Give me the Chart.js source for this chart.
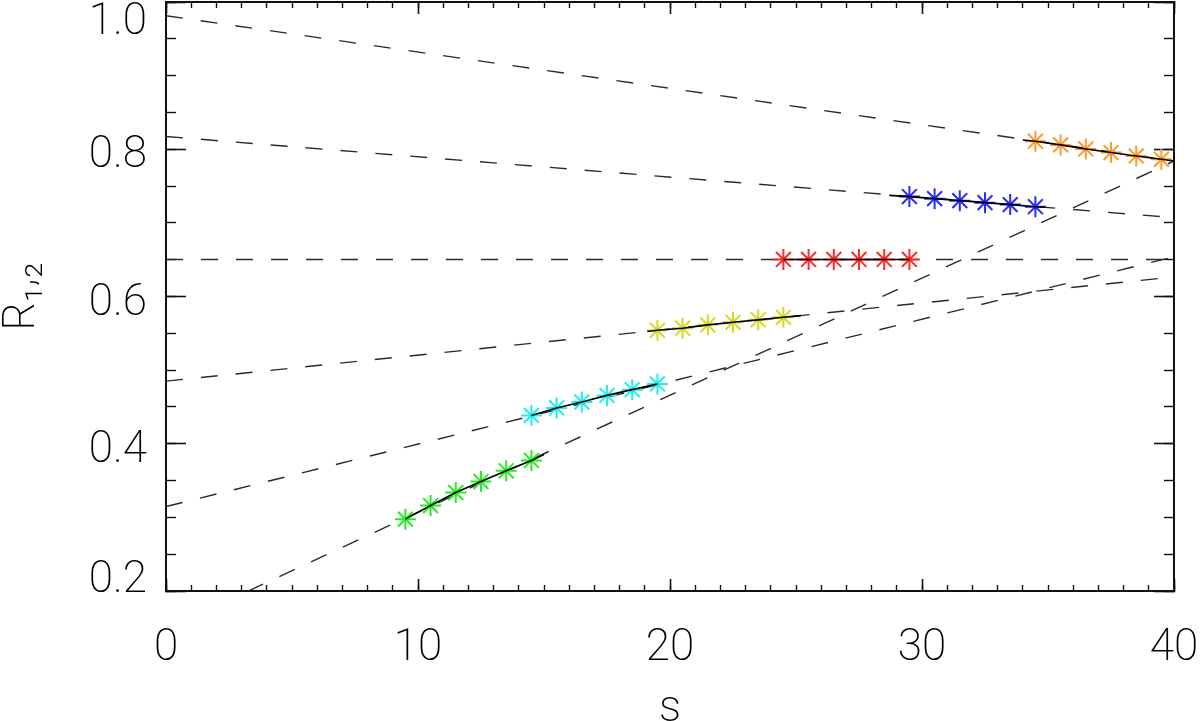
<!DOCTYPE html>
<html>
<head>
<meta charset="utf-8">
<script src="https://cdn.jsdelivr.net/npm/chart.js@4.4.1/dist/chart.umd.min.js"></script>
<style>
  html, body { margin: 0; padding: 0; background: #ffffff; }
  #c { display: block; }
</style>
</head>
<body>
<canvas id="c" width="1200" height="721"></canvas>
<script>
// ---------- data ----------
const xTickValues = [0, 10, 20, 30, 40];
const xTickLabels = ['0', '10', '20', '30', '40'];
const yTickValues = [0.2, 0.4, 0.6, 0.8, 1.0];
const yTickLabels = ['0.2', '0.4', '0.6', '0.8', '1.0'];

// asterisk samples
const greenX  = [9.5, 10.5, 11.5, 12.5, 13.5, 14.5];
const greenY  = [0.2976, 0.3161, 0.3337, 0.3487, 0.3633, 0.3773];
const cyanX   = [14.5, 15.5, 16.5, 17.5, 18.5, 19.5];
const cyanY   = [0.4385, 0.4486, 0.4567, 0.4657, 0.4735, 0.4812];
const yellowX = [19.5, 20.5, 21.5, 22.5, 23.5, 24.5];
const yellowY = [0.5541, 0.5569, 0.5615, 0.5650, 0.5683, 0.5718];
const redX    = [24.5, 25.5, 26.5, 27.5, 28.5, 29.5];
const redY    = [0.6503, 0.6503, 0.6503, 0.6503, 0.6503, 0.6503];
const blueX   = [29.5, 30.5, 31.5, 32.5, 33.5, 34.5];
const blueY   = [0.7357, 0.7329, 0.7302, 0.7275, 0.7248, 0.7220];
const orangeX = [34.5, 35.5, 36.5, 37.5, 38.5, 39.5];
const orangeY = [0.8109, 0.8059, 0.8004, 0.7955, 0.7909, 0.7864];

// solid black curves
const greenCurveX  = [9.5, 10.5, 11.5, 12.5, 13.5, 14.5, 15.0];
const greenCurveY  = [0.2976, 0.3161, 0.3337, 0.3487, 0.3633, 0.3773, 0.3855];
const cyanCurveX   = [14.5, 15.5, 16.5, 17.5, 18.5, 19.5];
const cyanCurveY   = [0.4385, 0.4486, 0.4567, 0.4657, 0.4735, 0.4812];
const yellowCurveX = [19.1, 19.5, 20.5, 21.5, 22.5, 23.5, 24.5, 25.2];
const yellowCurveY = [0.5525, 0.5541, 0.5569, 0.5615, 0.5650, 0.5683, 0.5718, 0.5740];
const redCurveX    = [24.5, 29.5];
const redCurveY    = [0.6503, 0.6503];
const blueCurveX   = [28.7, 29.5, 30.5, 31.5, 32.5, 33.5, 34.5, 34.9];
const blueCurveY   = [0.7374, 0.7357, 0.7329, 0.7302, 0.7275, 0.7248, 0.7220, 0.7212];
const orangeCurveX = [34.0, 34.5, 35.5, 36.5, 37.5, 38.5, 39.5, 40.0];
const orangeCurveY = [0.8125, 0.8109, 0.8059, 0.8004, 0.7955, 0.7909, 0.7864, 0.7840];

// dashed straight fits across the whole range
const fitX       = [0, 40];
const orangeFitY = [0.9814, 0.7840];
const blueFitY   = [0.8173, 0.7071];
const redFitY    = [0.6503, 0.6503];
const yellowFitY = [0.4850, 0.6266];
const cyanFitY   = [0.3147, 0.6540];
const greenFitY  = [0.1480, 0.7840];

// ---------- helpers ----------
const pts = (xs, ys) => xs.map((x, i) => ({ x: x, y: ys[i] }));
const FONT = 'Roboto, "DejaVu Sans", sans-serif';
const INK = '#111111';
const TEXT = '#000000';
const Y_LABEL_LINE = 7; // px, used to nudge y tick labels vertically

function stars(xs, ys, color) {
  return {
    data: pts(xs, ys), showLine: false, order: 1,
    pointStyle: 'star', pointRadius: 10.5, pointHoverRadius: 10.5,
    pointBorderColor: color, pointBackgroundColor: color, pointBorderWidth: 2
  };
}
function curve(xs, ys) {
  return {
    data: pts(xs, ys), showLine: true, order: 0,
    borderColor: '#000000', borderWidth: 1.6, pointRadius: 0, tension: 0
  };
}
function fit(ys, dashOffset) {
  return {
    data: pts(fitX, ys), showLine: true, order: 2,
    borderColor: '#2a2a2a', borderWidth: 1.4, borderDash: [17, 18],
    borderDashOffset: dashOffset || 0,
    pointRadius: 0, tension: 0
  };
}
function zeroPad(s) {
  s.paddingLeft = 0; s.paddingRight = 0; s.paddingTop = 0; s.paddingBottom = 0;
}
function minorAxis(position, min, max, step, len) {
  return {
    type: 'linear', position: position, min: min, max: max, weight: 0,
    ticks: { display: false, stepSize: step, maxTicksLimit: 1000 },
    grid: { display: true, drawOnChartArea: false, drawTicks: true, tickLength: -len,
            tickWidth: 1.4, tickColor: INK },
    border: { display: false },
    afterFit: (s) => { if (s.isHorizontal()) s.height = 0; else s.width = 0; zeroPad(s); }
  };
}
function mirrorAxis(position, min, max, step, len) {
  return {
    type: 'linear', position: position, min: min, max: max, weight: 1,
    ticks: { display: false, stepSize: step, maxTicksLimit: 1000 },
    grid: { display: true, drawOnChartArea: false, drawTicks: true, tickLength: -len,
            tickWidth: 1.6, tickColor: INK },
    border: { display: true, color: INK, width: 2 },
    afterFit: (s) => { if (s.isHorizontal()) s.height = 0; else s.width = 0; zeroPad(s); }
  };
}
const lookup = (vals, v) => vals.findIndex(t => Math.abs(t - v) < 1e-6);
// label with empty lines before/after -> vertical nudge of (before-after)*line/2
function nudged(text, before, after) {
  const out = [];
  for (let i = 0; i < before; i++) out.push('');
  out.push(text);
  for (let i = 0; i < after; i++) out.push('');
  return out;
}

new Chart(document.getElementById('c'), {
  type: 'line',
  data: {
    datasets: [
      curve(greenCurveX, greenCurveY),
      curve(cyanCurveX, cyanCurveY),
      curve(yellowCurveX, yellowCurveY),
      curve(redCurveX, redCurveY),
      curve(blueCurveX, blueCurveY),
      curve(orangeCurveX, orangeCurveY),
      stars(greenX, greenY, '#22ee22'),
      stars(cyanX, cyanY, '#22eeee'),
      stars(yellowX, yellowY, '#d8d820'),
      stars(redX, redY, '#ff2a2a'),
      stars(blueX, blueY, '#2a2aff'),
      stars(orangeX, orangeY, '#ff9a2a'),
      fit(orangeFitY),
      fit(blueFitY),
      fit(redFitY),
      fit(yellowFitY),
      fit(cyanFitY),
      fit(greenFitY, 15)
    ]
  },
  options: {
    responsive: false,
    animation: false,
    layout: { autoPadding: false, padding: { top: 2, right: 26, bottom: 0, left: 0 } },
    plugins: { legend: { display: false }, tooltip: { enabled: false } },
    scales: {
      x: {
        type: 'linear', position: 'bottom', min: 0, max: 40, weight: 1,
        ticks: {
          stepSize: 10, autoSkip: false, maxRotation: 0, padding: 55, color: TEXT,
          font: { family: FONT, size: 44, weight: 200, lineHeight: 0.7 },
          callback: (v) => { const i = lookup(xTickValues, v); return i >= 0 ? xTickLabels[i] : ''; }
        },
        grid: { display: true, drawOnChartArea: false, drawTicks: true, tickLength: -12,
                tickWidth: 1.6, tickColor: INK },
        border: { display: true, color: INK, width: 2 },
        title: { display: true, text: 's', color: TEXT, padding: 0,
                 font: { family: FONT, size: 44, weight: 200, lineHeight: 0.5 } },
        afterFit: (s) => { s.height = 130; s.paddingLeft = 0; s.paddingRight = 0; }
      },
      xMinor: minorAxis('bottom', 0, 40, 1, 6),
      xTop: mirrorAxis('top', 0, 40, 10, 12),
      xTopMinor: minorAxis('top', 0, 40, 1, 6),
      y: {
        type: 'linear', position: 'left', min: 0.2, max: 1.0, weight: 1,
        ticks: {
          stepSize: 0.2, autoSkip: false, padding: 39, color: TEXT,
          font: { family: FONT, size: 44, weight: 200, lineHeight: Y_LABEL_LINE / 44 },
          callback: (v) => {
            const i = lookup(yTickValues, v);
            if (i < 0) return '';
            if (i === 0) return nudged(yTickLabels[i], 0, 3);
            if (i === yTickValues.length - 1) return nudged(yTickLabels[i], 6, 0);
            return nudged(yTickLabels[i], 2, 0);
          }
        },
        grid: { display: true, drawOnChartArea: false, drawTicks: true, tickLength: -20,
                tickWidth: 1.6, tickColor: INK },
        border: { display: true, color: INK, width: 2 },
        title: { display: true, text: 'R\u2081,\u2082', color: TEXT, padding: 0,
                 font: { family: FONT, size: 44, weight: 200, lineHeight: 1.04 } },
        afterFit: (s) => { s.width = 166; s.paddingTop = 0; s.paddingBottom = 0; }
      },
      yMinor: minorAxis('left', 0.2, 1.0, 0.05, 10),
      yRight: mirrorAxis('right', 0.2, 1.0, 0.2, 20),
      yRightMinor: minorAxis('right', 0.2, 1.0, 0.05, 10)
    }
  }
});
</script>
</body>
</html>
